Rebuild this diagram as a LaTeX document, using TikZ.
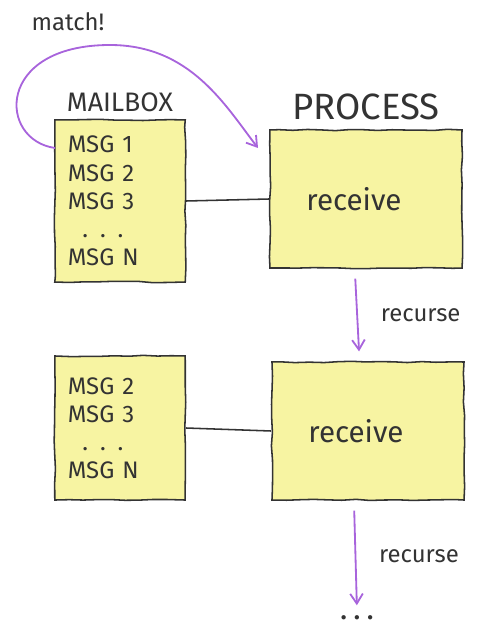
\documentclass[tikz,border=0pt]{standalone}
\usepackage{fontspec}
\setmainfont{Fira Sans}
\usetikzlibrary{positioning,arrows.meta,decorations.pathmorphing}
\definecolor{note}{HTML}{F7F4A2}
\definecolor{ink}{HTML}{333333}
\definecolor{recur}{HTML}{A864DC}

\begin{document}
\begin{tikzpicture}[x=0.025cm, y=-0.025cm, font=\fontsize{17}{20}\selectfont, color=ink,
  sketch/.style={decorate, decoration={random steps, segment length=10pt, amplitude=0.5pt}},
  mbox/.style={sketch, draw=ink, fill=note, line width=1.1pt, minimum width=3.25cm,
               text width=2.6cm, inner sep=0.33cm, align=left},
  pbox/.style={sketch, draw=ink, fill=note, line width=1.1pt, minimum width=4.8cm,
               minimum height=3.45cm, align=center, font=\fontsize{21}{24}\selectfont},
  title/.style={font=\fontsize{19}{22}\selectfont},
  arr/.style={->, >={Straight Barb[length=7pt, width=9pt]}, line width=1.3pt, color=recur}
]
\useasboundingbox (0,0) rectangle (477,630);
% first round
\node[mbox, minimum height=4.05cm] (mail1) at (120,201)
  {MSG 1\\MSG 2\\MSG 3\\\hspace{0.6em}. . .\\MSG N};
\node[title, above=0.05cm of mail1] (mailtitle) {MAILBOX};
\node[pbox] (proc1) at (366,199) {receive\hspace{0.6cm}};
\node[title, font=\fontsize{26}{30}\selectfont, above=0.1cm of proc1] (proctitle) {PROCESS};
\node (match) at (68,22) {match!};
% second round
\node[mbox, minimum height=3.6cm] (mail2) at (120,428)
  {MSG 2\\MSG 3\\\hspace{0.6em}. . .\\MSG N};
\node[pbox] (proc2) at (368,431) {receive\hspace{0.6cm}};
\node (more) at (357,618) {\textbf{. . .}};
\coordinate (msg1) at (55,148);
\coordinate (hit) at (258,148);
\draw[line width=1.1pt] (mail1.east) -- (proc1.west);
\draw[line width=1.1pt] (mail2.east) -- (proc2.west);
\draw[arr] (msg1) .. controls (-2,140) and (-5,45) .. (110,45)
  .. controls (190,45) and (225,105) .. (hit);
\draw[arr, shorten <=7pt, shorten >=7pt] ([xshift=-8pt]proc1.south) -- node[right=0.45cm, color=ink] (rec1) {recurse} ([xshift=-6pt]proc2.north);
\draw[arr, shorten <=7pt, shorten >=4pt] ([xshift=-10pt]proc2.south) -- node[right=0.45cm, color=ink] (rec2) {recurse} (more.north);
\end{tikzpicture}
\end{document}
